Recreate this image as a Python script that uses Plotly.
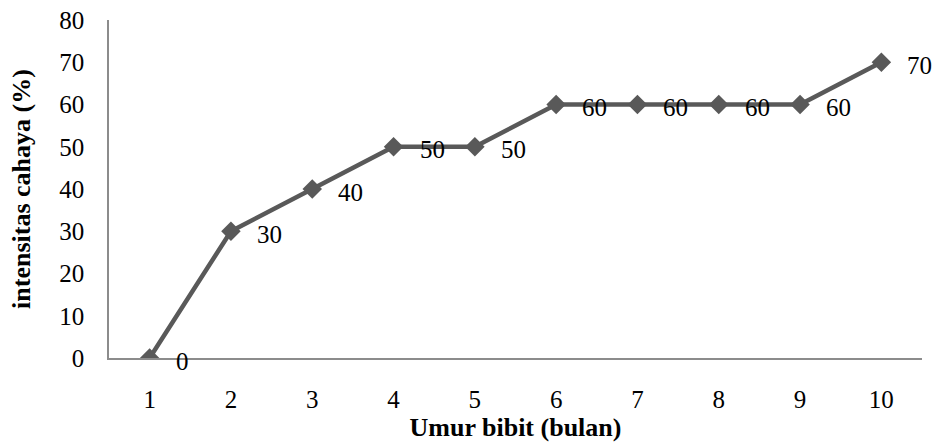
import plotly.graph_objects as go

# Seedling age (months) and light intensity (%)
umur = ["1", "2", "3", "4", "5", "6", "7", "8", "9", "10"]
intensitas = [0, 30, 40, 50, 50, 60, 60, 60, 60, 70]
y_ticks = [0, 10, 20, 30, 40, 50, 60, 70, 80]

FONT = "Liberation Serif, Times New Roman, serif"
LINE = "#595959"

fig = go.Figure()
fig.add_trace(go.Scatter(
    x=umur, y=intensitas, mode="lines+markers",
    line=dict(color=LINE, width=4.5),
    marker=dict(symbol="diamond", size=15, color=LINE),
    showlegend=False, hoverinfo="skip",
))

# value labels to the right of each point (category axis -> position index)
for i, yv in enumerate(intensitas):
    fig.add_annotation(
        x=i, y=yv, text=str(yv), showarrow=False,
        xanchor="left", yanchor="middle", xshift=24, yshift=-3,
        font=dict(family=FONT, size=25, color="#000000"),
    )

fig.update_layout(
    width=936, height=442,
    margin=dict(l=109, r=14, t=20, b=84),
    paper_bgcolor="white", plot_bgcolor="white",
    font=dict(family=FONT, size=25, color="#000000"),
)
fig.update_xaxes(
    type="category", range=[-0.5, 9.5], automargin=False,
    showline=True, linecolor="#8c8c8c", linewidth=1.5,
    showgrid=False, zeroline=False, ticks="",
    ticklabelstandoff=18,
    title=dict(text="<b>Umur bibit (bulan)</b>", font=dict(family=FONT, size=26), standoff=0),
)
fig.update_yaxes(
    range=[0, 80], tickvals=y_ticks, automargin=False,
    showline=True, linecolor="#8c8c8c", linewidth=1.5,
    showgrid=False, zeroline=False, ticks="",
    ticklabelstandoff=18,
    title=dict(text="<b>intensitas cahaya (%)</b>", font=dict(family=FONT, size=26), standoff=21),
)

fig.write_html("out.html")
